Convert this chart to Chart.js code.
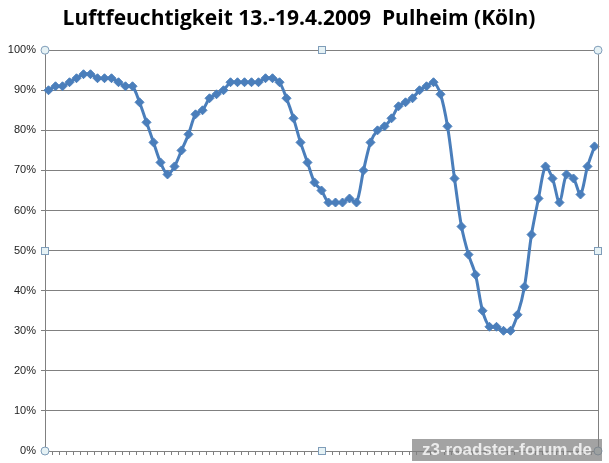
<!DOCTYPE html>
<html><head><meta charset="utf-8">
<script src="https://cdn.jsdelivr.net/npm/chart.js@4/dist/chart.umd.min.js"></script>
<style>
html,body{margin:0;padding:0;background:#fff;}
#wrap{position:relative;width:609px;height:463px;}
#wm{position:absolute;left:412px;top:439px;width:190px;height:22px;background:rgba(128,128,128,0.72);color:rgba(255,255,255,0.8);font:bold 17px "Liberation Sans",Arial,sans-serif;line-height:22px;text-align:center;letter-spacing:0px;}
</style></head>
<body><div id="wrap"><canvas id="c" width="609" height="463"></canvas><div id="wm">z3-roadster-forum.de</div></div>
<script>
const categories = Array.from({length:79},(_,i)=>String(i+1));
const humidity = [90,91,91,92,93,94,94,93,93,93,92,91,91,87,82,77,72,69,71,75,79,84,85,88,89,90,92,92,92,92,92,93,93,92,88,83,77,72,67,65,62,62,62,63,62,70,77,80,81,83,86,87,88,90,91,92,89,81,68,56,49,44,35,31,31,30,30,34,41,54,63,71,68,62,69,68,64,71,76];
const titleText = 'Luftfeuchtigkeit 13.-19.4.2009  Pulheim (Köln)';

const handles = {
  id:'handles',
  afterDraw(chart){
    const a=chart.chartArea, ctx=chart.ctx;
    ctx.save();
    ctx.strokeStyle='#808080'; ctx.lineWidth=1;
    ctx.beginPath(); ctx.moveTo(Math.round(a.right)+0.5,a.top); ctx.lineTo(Math.round(a.right)+0.5,a.bottom); ctx.stroke();
    const mx=(a.left+a.right)/2, my=(a.top+a.bottom)/2;
    ctx.fillStyle='#e6f2f5'; ctx.strokeStyle='#7f9db9';
    [[a.left,a.top],[a.right,a.top],[a.left,a.bottom],[a.right,a.bottom]].forEach(p=>{
      ctx.beginPath(); ctx.arc(p[0],p[1],4,0,Math.PI*2); ctx.fill(); ctx.stroke();});
    [[mx,a.top],[mx,a.bottom],[a.left,my],[a.right,my]].forEach(p=>{
      ctx.fillRect(Math.round(p[0])-3.5,Math.round(p[1])-3.5,7,7); ctx.strokeRect(Math.round(p[0])-3.5,Math.round(p[1])-3.5,7,7);});
    ctx.restore();
  }
};

new Chart(document.getElementById('c'),{
  type:'line',
  data:{labels:categories,datasets:[{data:humidity,borderColor:'#4A7EBB',backgroundColor:'#4A7EBB',borderWidth:3,pointStyle:'rectRot',pointRadius:4.5,pointBorderWidth:1,tension:0.3,fill:false}]},
  options:{
    responsive:false,animation:false,
    layout:{padding:{left:0,right:11,top:0,bottom:0}},
    plugins:{legend:{display:false},tooltip:{enabled:false},
      title:{display:true,text:titleText,color:'#000',font:{family:'"Open Sans"',size:21,weight:'bold'},padding:{top:6,bottom:19}}},
    scales:{
      x:{offset:true,grid:{offset:true,drawOnChartArea:false,tickLength:4,color:'#808080'},border:{color:'#808080'},ticks:{display:false},
        afterFit(s){s.height=12;}},
      y:{min:0,max:100,ticks:{stepSize:10,callback:v=>v+'%',color:'#222',font:{family:'"Liberation Sans"',size:11},padding:5},
        grid:{color:'#808080',tickLength:4},border:{color:'#808080'},
        afterFit(s){s.width=45;}}
    }
  },
  plugins:[handles]
});
</script></body></html>
